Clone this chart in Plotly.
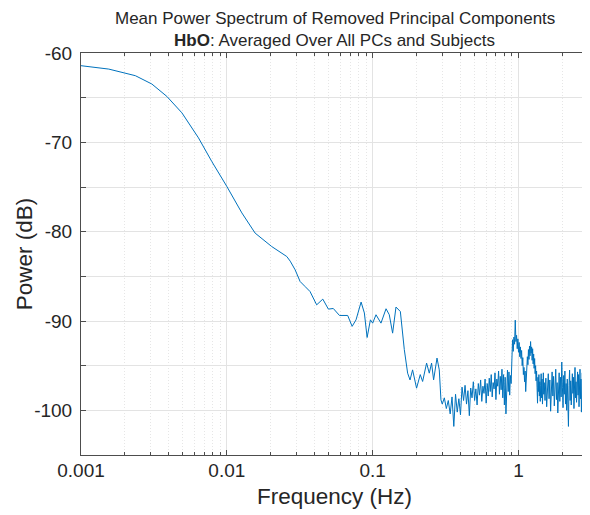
import plotly.graph_objects as go

# ---- Data ----
# Smooth low-frequency part (Hz, dB)
freq_low = [0.00100, 0.00155, 0.00236, 0.00306, 0.00388, 0.00492, 0.00639, 0.00788,
            0.01000, 0.01268, 0.01563, 0.02030, 0.02576, 0.02720, 0.02940, 0.03180,
            0.03440, 0.03720, 0.04130, 0.04550, 0.04970, 0.05370, 0.05920, 0.06740,
            0.07230, 0.07690, 0.08330, 0.08770, 0.09160, 0.09650, 0.10000, 0.10540,
            0.11400, 0.12350, 0.13000, 0.13700, 0.14450, 0.15480, 0.16480, 0.17370,
            0.18040, 0.18780, 0.20000, 0.21200, 0.22000, 0.23430, 0.24440, 0.25350,
            0.26170, 0.27610, 0.28620, 0.29390]
power_low = [-61.42, -61.80, -62.54, -63.47, -64.86, -66.70, -69.50, -72.14,
             -74.94, -77.90, -80.16, -81.66, -82.78, -83.30, -84.27, -85.58,
             -86.14, -86.70, -88.19, -87.55, -88.67, -88.60, -89.38, -89.38,
             -90.60, -89.87, -87.88, -89.10, -91.85, -89.87, -90.24, -89.30,
             -90.24, -88.63, -89.30, -91.36, -88.44, -88.94, -93.20, -95.84,
             -96.60, -95.47, -97.52, -96.00, -96.77, -94.71, -95.84, -94.71,
             -96.59, -94.15, -95.47, -98.83]

# Noisy floor between 0.3 and 0.9 Hz
freq_mid = [0.30, 0.31, 0.32, 0.33, 0.34, 0.35, 0.36, 0.37, 0.38, 0.39,
            0.40, 0.41, 0.42, 0.43, 0.44, 0.45, 0.46, 0.47, 0.48, 0.49,
            0.50, 0.51, 0.52, 0.53, 0.54, 0.55, 0.56, 0.57, 0.58, 0.59,
            0.60, 0.61, 0.62, 0.63, 0.64, 0.65, 0.66, 0.67, 0.68, 0.69,
            0.70, 0.71, 0.72, 0.73, 0.74, 0.75, 0.76, 0.77, 0.78, 0.79,
            0.80, 0.81, 0.82, 0.83, 0.84, 0.85, 0.86, 0.87, 0.88, 0.89]
power_mid = [-99.3, -98.6, -99.8, -98.9, -100.4, -98.5, -101.8, -98.2, -100.2, -98.7,
             -100.5, -97.4, -98.9, -97.2, -99.3, -97.8, -100.6, -97.5, -98.6, -96.8,
             -98.9, -97.6, -99.4, -97.0, -98.3, -96.6, -99.0, -97.3, -98.1, -96.5,
             -99.2, -97.0, -98.4, -96.4, -97.9, -96.0, -98.5, -96.9, -97.6, -95.8,
             -98.8, -96.5, -97.3, -95.6, -98.2, -96.2, -97.7, -95.4, -98.6, -96.0,
             -99.4, -96.3, -100.4, -96.8, -95.5, -97.9, -95.7, -98.3, -96.1, -97.0]

# Cardiac peak region 0.9 - 1.5 Hz
freq_peak = [0.90, 0.91, 0.92, 0.93, 0.94, 0.95, 0.96, 0.97, 0.98, 0.99,
             1.00, 1.01, 1.02, 1.03, 1.04, 1.05, 1.06, 1.07, 1.08, 1.09,
             1.10, 1.11, 1.12, 1.13, 1.14, 1.15, 1.16, 1.17, 1.18, 1.19,
             1.20, 1.21, 1.22, 1.23, 1.24, 1.25, 1.26, 1.27, 1.28, 1.29,
             1.30, 1.31, 1.32, 1.33, 1.34, 1.35, 1.36, 1.37, 1.38, 1.39,
             1.40, 1.41, 1.42, 1.43, 1.44, 1.45, 1.46, 1.47, 1.48, 1.49, 1.50]
power_peak = [-92.8, -92.1, -93.4, -91.8, -92.6, -89.9, -92.3, -91.6, -93.1, -92.0,
              -93.5, -92.4, -94.0, -92.9, -94.2, -93.3, -95.0, -94.1, -96.0, -95.2,
              -96.8, -95.6, -97.9, -96.4, -95.2, -94.0, -94.9, -93.2, -94.3, -92.8,
              -93.9, -92.3, -93.6, -92.9, -94.4, -93.1, -94.8, -93.7, -95.3, -94.2,
              -95.9, -95.0, -96.7, -95.6, -97.4, -99.2, -96.3, -97.9, -96.0, -98.4,
              -96.8, -99.0, -97.2, -95.9, -98.6, -96.5, -99.3, -97.1, -95.8, -98.2, -96.9]

# High-frequency floor 1.5 - 3.0 Hz
freq_high = [1.52, 1.54, 1.56, 1.58, 1.60, 1.62, 1.64, 1.66, 1.68, 1.70,
             1.72, 1.74, 1.76, 1.78, 1.80, 1.82, 1.84, 1.86, 1.88, 1.90,
             1.92, 1.94, 1.96, 1.98, 2.00, 2.02, 2.04, 2.06, 2.08, 2.10,
             2.12, 2.14, 2.16, 2.18, 2.20, 2.22, 2.24, 2.26, 2.28, 2.30,
             2.32, 2.34, 2.36, 2.38, 2.40, 2.42, 2.44, 2.46, 2.48, 2.50,
             2.52, 2.54, 2.56, 2.58, 2.60, 2.62, 2.64, 2.66, 2.68, 2.70,
             2.72, 2.74, 2.76, 2.78, 2.80, 2.82, 2.84, 2.86, 2.88, 2.90,
             2.92, 2.94, 2.96, 2.98, 3.00]
power_high = [-98.9, -96.4, -99.6, -97.0, -95.9, -98.7, -96.6, -100.1, -97.3, -95.7,
              -98.4, -96.2, -99.5, -97.6, -95.4, -98.8, -96.9, -100.3, -97.1, -95.8,
              -99.0, -96.3, -98.5, -94.6, -97.4, -99.7, -96.1, -98.2, -95.6, -99.3,
              -97.0, -100.0, -96.5, -98.6, -101.8, -97.2, -95.5, -98.9, -96.7, -99.4,
              -97.5, -95.9, -98.1, -96.3, -99.8, -97.0, -95.2, -98.6, -96.8, -99.1,
              -97.4, -95.7, -98.3, -96.0, -99.6, -97.2, -95.4, -98.7, -96.5, -100.2,
              -97.6, -95.8, -98.0, -94.7, -97.3, -99.5, -96.2, -98.4, -95.9, -99.0,
              -97.1, -95.6, -98.8, -96.4, -99.3]

# Axis ticks
x_tick_vals = [0.001, 0.01, 0.1, 1]
x_tick_text = ["0.001", "0.01", "0.1", "1"]
x_minor_vals = [0.002, 0.003, 0.004, 0.005, 0.006, 0.007, 0.008, 0.009,
                0.02, 0.03, 0.04, 0.05, 0.06, 0.07, 0.08, 0.09,
                0.2, 0.3, 0.4, 0.5, 0.6, 0.7, 0.8, 0.9, 2, 3]
y_tick_vals = [-105, -100, -95, -90, -85, -80, -75, -70, -65, -60]
y_tick_text = ["", "-100", "", "-90", "", "-80", "", "-70", "", "-60"]

title_line1 = "Mean Power Spectrum of Removed Principal Components"
title_line2 = "<b>HbO</b>: Averaged Over All PCs and Subjects"
x_label = "Frequency (Hz)"
y_label = "Power (dB)"

# ---- Figure ----
freq = freq_low + freq_mid + freq_peak + freq_high
power = power_low + power_mid + power_peak + power_high

FONT = "Liberation Sans, Arial, Helvetica, sans-serif"
TXT = "#262626"
AX = "#4d4d4d"

fig = go.Figure()
fig.add_trace(go.Scatter(x=freq, y=power, mode="lines",
                         line=dict(color="#0072BD", width=1),
                         showlegend=False, hoverinfo="skip"))

# the page body adds an 8px margin, so the figure is 8px smaller on each axis
fig.update_layout(
    width=582, height=507,
    margin=dict(l=73, r=2, t=45, b=60),
    paper_bgcolor="white", plot_bgcolor="white",
    font=dict(family=FONT, color=TXT),
    showlegend=False,
)

fig.update_xaxes(
    type="log", range=[-3, 0.4765],
    tickmode="array", tickvals=x_tick_vals, ticktext=x_tick_text,
    tickfont=dict(size=19, color=TXT, family=FONT),
    ticks="inside", ticklen=5, tickcolor=AX, tickwidth=1,
    ticklabelstandoff=-2,
    showline=True, linecolor=AX, linewidth=1, mirror="ticks",
    showgrid=True, gridcolor="#e3e3e3", gridwidth=1,
    zeroline=False,
    minor=dict(tickmode="array", tickvals=x_minor_vals, ticks="inside",
               ticklen=3, tickcolor=AX, showgrid=True,
               gridcolor="#e6e6e6", griddash="1px,2px", gridwidth=1),
)
fig.update_yaxes(
    range=[-105, -60],
    tickmode="array", tickvals=y_tick_vals, ticktext=y_tick_text,
    tickfont=dict(size=19, color=TXT, family=FONT),
    ticks="inside", ticklen=5, tickcolor=AX, tickwidth=1,
    ticklabelstandoff=4,
    showline=True, linecolor=AX, linewidth=1, mirror="ticks",
    showgrid=True, gridcolor="#e3e3e3", gridwidth=1,
    zeroline=False,
)

fig.add_annotation(text=title_line1, xref="paper", yref="paper", x=0.5, y=1.086,
                   xanchor="center", yanchor="middle", showarrow=False,
                   font=dict(size=17, color=TXT, family=FONT))
fig.add_annotation(text=title_line2, xref="paper", yref="paper", x=0.5, y=1.032,
                   xanchor="center", yanchor="middle", showarrow=False,
                   font=dict(size=17, color=TXT, family=FONT))
fig.add_annotation(text=x_label, xref="paper", yref="paper", x=0.5, y=-0.104,
                   xanchor="center", yanchor="middle", showarrow=False,
                   font=dict(size=22.5, color=TXT, family=FONT))
fig.add_annotation(text=y_label, xref="paper", yref="paper", x=-0.112, y=0.5,
                   xanchor="center", yanchor="middle", showarrow=False, textangle=-90,
                   font=dict(size=22.5, color=TXT, family=FONT))

fig.write_html("out.html")
